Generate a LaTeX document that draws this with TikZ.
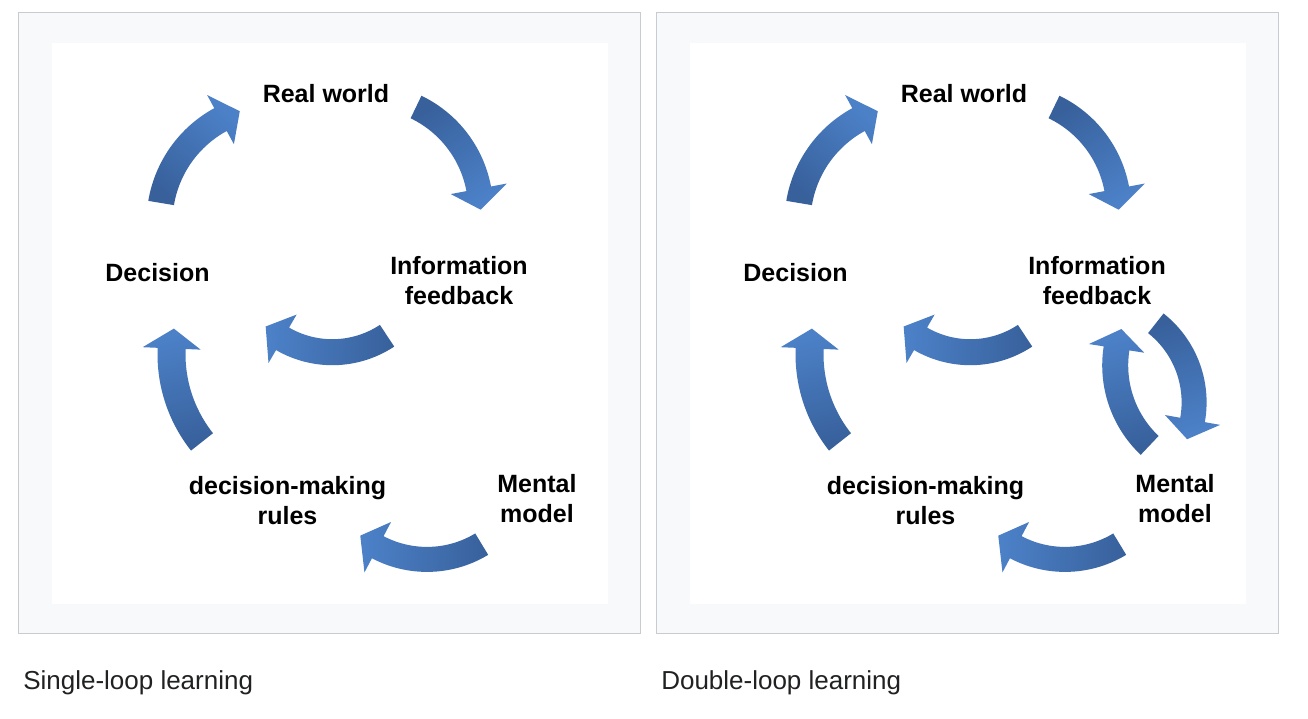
\documentclass[tikz,border=0pt]{standalone}
\usepackage{fontspec}
\setmainfont{Liberation Sans}
\definecolor{framebg}{HTML}{F8F9FA}
\definecolor{frameline}{HTML}{C8CCD1}
\definecolor{captext}{HTML}{202122}
\definecolor{arrowlight}{RGB}{76,129,200}
\definecolor{arrowdark}{RGB}{56,97,156}
\tikzset{
  lbl/.style={font=\fontsize{18.75}{22.5}\selectfont\bfseries, inner sep=0pt, align=center, text=black},
  captxt/.style={font=\fontsize{19.5}{23}\selectfont, inner sep=0pt, anchor=base west, text=captext},
  panel/.style={draw=frameline, fill=framebg, line width=0.75pt},
  whitearea/.style={fill=white},
  arrowfill/.style={top color=arrowlight, bottom color=arrowdark}
}
% #1 cx, #2 cy, #3 radius, #4 tail angle, #5 head-base angle, #6 tip angle,
% #7 shaft half width, #8 head half width, #9 shading angle
\newcommand\blockarc[9]{%
  \shade[arrowfill, shading angle=#9]
    plot[domain=#4:#5, samples=30] ({#1+(#3+#7)*cos(\x)},{#2+(#3+#7)*sin(\x)})
    -- ({#1+(#3+#8)*cos(#5)},{#2+(#3+#8)*sin(#5)})
    -- ({#1+#3*cos(#6)},{#2+#3*sin(#6)})
    -- ({#1+(#3-#8)*cos(#5)},{#2+(#3-#8)*sin(#5)})
    -- plot[domain=#5:#4, samples=30] ({#1+(#3-#7)*cos(\x)},{#2+(#3-#7)*sin(\x)})
    -- cycle;}
\newcommand\cyclepanel[1]{%
  \node[lbl, anchor=base] (real#1) at (326,102.5) {Real world};
  \node[lbl, anchor=base] (decision#1) at (157.5,281.5) {Decision};
  \node[lbl] (info#1) at (459,280.4) {Information\\feedback};
  \node[lbl] (mental#1) at (537,498.4) {Mental\\model};
  \node[lbl] (rules#1) at (287.5,500.9) {decision-making\\rules};
  \blockarc{276.5}{222.3}{117}{189.5}{241.4}{251.7}{13}{28}{-40.7}
  \blockarc{366.5}{209.9}{114.2}{295.7}{349.35}{359.9}{12.5}{28.5}{-146.7}
  \blockarc{332.3}{253.0}{99.2}{56.5}{120.1}{132.2}{13}{28}{86.7}
  \blockarc{312.5}{354.3}{141}{141.6}{182.4}{190.5}{14}{29}{14.4}
  \blockarc{427}{453.8}{105.6}{58.8}{117.8}{129.2}{12.5}{28.5}{87.2}
}
\begin{document}
\begin{tikzpicture}[x=0.75pt,y=-0.75pt]
\useasboundingbox (0,0) rectangle (1308,718);
\fill[white] (0,0) rectangle (1308,718);
% panels
\draw[panel] (18.5,12.5) rectangle (640.5,633.5);
\fill[whitearea] (52,43) rectangle (608,604);
\draw[panel] (656.5,12.5) rectangle (1278.5,633.5);
\fill[whitearea] (690,43) rectangle (1246,604);
% single loop
\begin{scope}
  \cyclepanel{L}
\end{scope}
% double loop
\begin{scope}[shift={(638,0)}]
  \cyclepanel{R}
\end{scope}
\blockarc{1225.3}{365.4}{110.1}{133.4}{188.9}{199.3}{13}{28}{15.9}
\blockarc{1093.4}{402.3}{100.7}{308.3}{370.1}{381.5}{12.5}{28}{-164.1}
% captions
\node[captxt] (capL) at (23,689) {Single-loop learning};
\node[captxt] (capR) at (661,689) {Double-loop learning};
\end{tikzpicture}
\end{document}
